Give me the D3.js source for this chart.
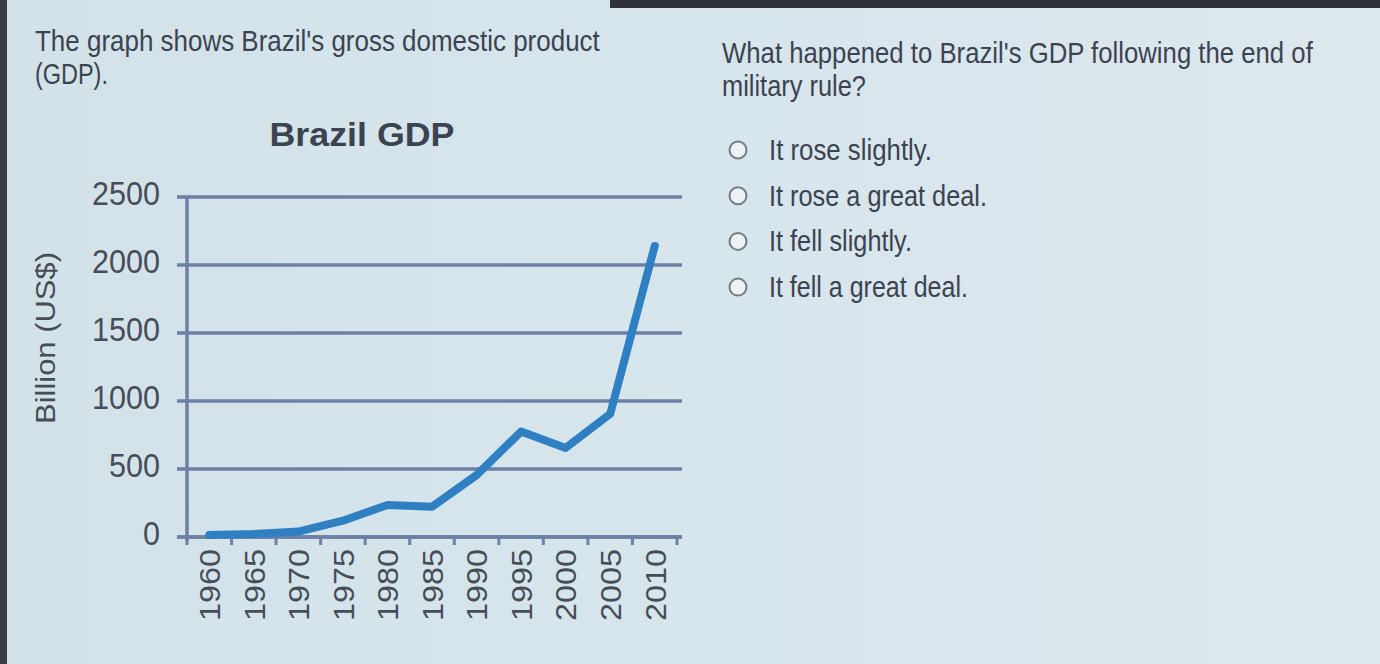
<!DOCTYPE html>
<html>
<head>
<meta charset="utf-8">
<script src="https://cdn.jsdelivr.net/npm/d3@7"></script>
<style>
  html, body { margin: 0; padding: 0; background: #d5e3ea; }
  svg { display: block; }
  text { font-family: "Liberation Sans", Arial, sans-serif; }
</style>
</head>
<body>
<svg id="chart" width="1380" height="664"></svg>
<script>
// ---- data ----
const years = ["1960","1965","1970","1975","1980","1985","1990","1995","2000","2005","2010"];
const gdp = [15, 22, 40, 120, 235, 222, 455, 775, 655, 905, 2140];
const yTicks = [0, 500, 1000, 1500, 2000, 2500];
const chartTitle = "Brazil GDP";
const yAxisLabel = "Billion (US$)";
const introLines = ["The graph shows Brazil's gross domestic product", "(GDP)."];
const questionLines = ["What happened to Brazil's GDP following the end of", "military rule?"];
const options = ["It rose slightly.", "It rose a great deal.", "It fell slightly.", "It fell a great deal."];

const svg = d3.select("#chart");
const W = 1380, H = 664;

// helper: draw text at (x,y) squeezed horizontally to a target width
function squeezed(parent, str, x0, y0, size, width, fill) {
  const g = parent.append("g");
  const t = g.append("text").attr("x", 0).attr("y", 0)
    .attr("font-size", size).attr("fill", fill).text(str);
  const len = t.node().getComputedTextLength();
  g.attr("transform", `translate(${x0},${y0}) scale(${width / len},1)`);
  return t;
}

// background
const defs = svg.append("defs");
const grad = defs.append("linearGradient").attr("id", "bg").attr("x1", 0).attr("x2", 1).attr("y1", 0).attr("y2", 0);
grad.append("stop").attr("offset", 0).attr("stop-color", "#d3e2e9");
grad.append("stop").attr("offset", 0.5).attr("stop-color", "#d7e5ec");
grad.append("stop").attr("offset", 1).attr("stop-color", "#dde8ee");
svg.append("rect").attr("width", W).attr("height", H).attr("fill", "url(#bg)");
// dark screen edges
svg.append("rect").attr("x", 0).attr("y", 0).attr("width", 7).attr("height", H).attr("fill", "#3a3d42");
svg.append("rect").attr("x", 610).attr("y", 0).attr("width", W - 610).attr("height", 8).attr("fill", "#2e3136");

const textColor = "#3c4350";

// intro text
const introWidths = [565, 73];
introLines.forEach((s, i) => squeezed(svg, s, 35, 51 + i * 33, 29, introWidths[i], textColor));

// question
const qWidths = [591, 144];
questionLines.forEach((s, i) => squeezed(svg, s, 722, 63 + i * 33, 29, qWidths[i], textColor));

// options
const optWidths = [163, 218, 143, 199];
options.forEach((s, i) => {
  const cy = 150 + i * 45.7;
  svg.append("circle").attr("cx", 738).attr("cy", cy).attr("r", 8.5)
    .attr("fill", "#edf2f5").attr("stroke", "#767c84").attr("stroke-width", 2);
  squeezed(svg, s, 769, cy + 10, 29, optWidths[i], textColor);
});

// ---- chart ----
const x = d3.scaleBand().domain(years).range([187, 677]);
const y = d3.scaleLinear().domain([0, 2500]).range([537, 197]);
const gridColor = "#6d80a5";

svg.append("text").attr("x", 362).attr("y", 146).attr("text-anchor", "middle")
  .attr("font-size", 34).attr("font-weight", "bold").attr("fill", "#3b4250")
  .attr("textLength", 185).attr("lengthAdjust", "spacingAndGlyphs")
  .text(chartTitle);

// gridlines
svg.append("g").selectAll("line").data(yTicks).join("line")
  .attr("x1", 177).attr("x2", 682)
  .attr("y1", d => y(d)).attr("y2", d => y(d))
  .attr("stroke", gridColor).attr("stroke-width", 3.5);

// y axis
const yAxis = svg.append("g").attr("transform", "translate(187,0)")
  .call(d3.axisLeft(y).tickValues(yTicks).tickFormat(d3.format("d")).tickSize(0).tickPadding(27));
yAxis.select(".domain").attr("stroke", gridColor).attr("stroke-width", 3.5)
  .attr("d", `M0,${y(2500)}V${y(0) + 4}`);
yAxis.selectAll("text").attr("font-size", 33).attr("fill", "#474d57")
  .attr("font-family", '"Liberation Sans", Arial, sans-serif')
  .attr("dy", "0.22em")
  .attr("textLength", d => String(d).length * 17).attr("lengthAdjust", "spacingAndGlyphs");

// x axis
const xAxis = svg.append("g").attr("transform", `translate(0,${y(0)})`)
  .call(d3.axisBottom(x).tickSize(0).tickPadding(0));
xAxis.select(".domain").attr("stroke", gridColor).attr("stroke-width", 3.5)
  .attr("d", `M177,0H682`);
xAxis.selectAll(".tick line").remove();
const bounds = d3.range(years.length + 1).map(i => x.range()[0] + i * x.bandwidth());
xAxis.selectAll("line.bt").data(bounds).join("line").attr("class", "bt")
  .attr("x1", d => d).attr("x2", d => d).attr("y1", 0).attr("y2", 8)
  .attr("stroke", gridColor).attr("stroke-width", 3);
xAxis.selectAll(".tick text")
  .attr("transform", "rotate(-90)")
  .attr("text-anchor", "end").attr("dy", "0.36em")
  .attr("x", -12).attr("y", 0)
  .attr("font-size", 30).attr("fill", "#474d57")
  .attr("font-family", '"Liberation Sans", Arial, sans-serif')
  .attr("textLength", 72).attr("lengthAdjust", "spacingAndGlyphs");

// y label
svg.append("text").attr("transform", "translate(55,338) rotate(-90)")
  .attr("text-anchor", "middle").attr("font-size", 28).attr("fill", "#474d57")
  .attr("textLength", 172).attr("lengthAdjust", "spacingAndGlyphs")
  .text(yAxisLabel);

// line
const line = d3.line().x((d, i) => x(years[i]) + x.bandwidth() / 2).y(d => y(d));
svg.append("path").datum(gdp).attr("d", line)
  .attr("fill", "none").attr("stroke", "#2f7fc3").attr("stroke-width", 8)
  .attr("stroke-linejoin", "round").attr("stroke-linecap", "round");
</script>
</body>
</html>
